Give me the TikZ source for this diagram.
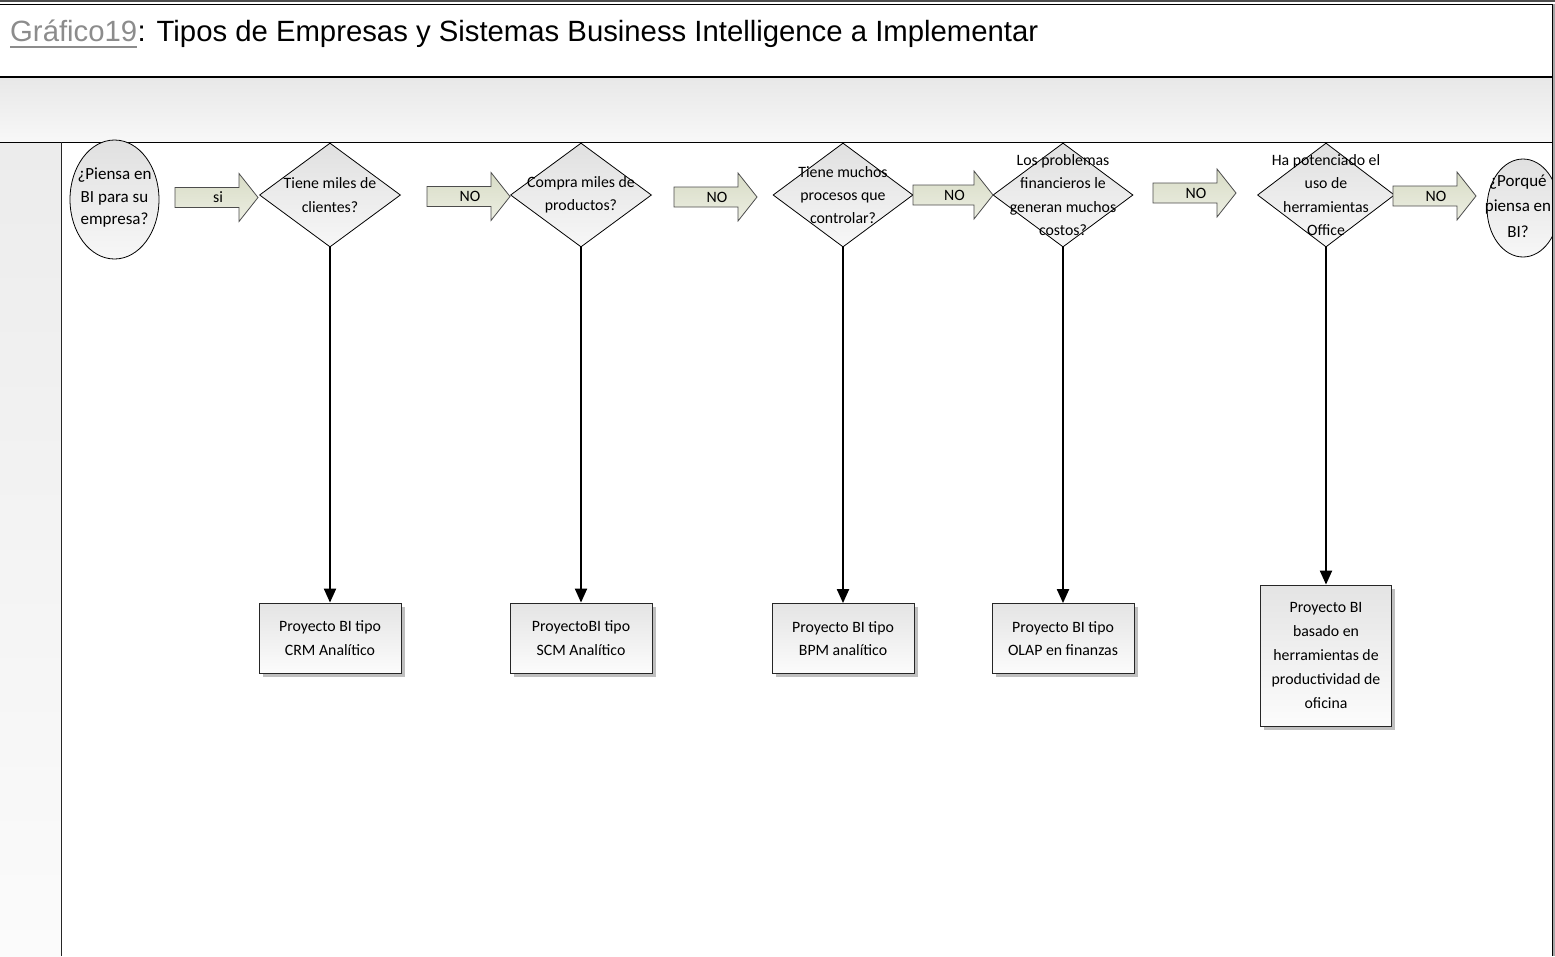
\documentclass[tikz,border=0pt]{standalone}
\usepackage{fontspec}
\setmainfont{Carlito}
\newfontfamily\titlefont{Liberation Sans}
\usetikzlibrary{shapes.geometric,arrows.meta,shadows}

\definecolor{titlegray}{RGB}{140,140,140}
\definecolor{bandtop}{RGB}{232,232,232}
\definecolor{bandbottom}{RGB}{248,248,248}
\definecolor{lanetop}{RGB}{236,236,236}
\definecolor{lanebottom}{RGB}{251,251,251}
\definecolor{shapetop}{RGB}{224,224,224}
\definecolor{shapebottom}{RGB}{247,247,247}
\definecolor{boxtop}{RGB}{228,228,228}
\definecolor{boxbottom}{RGB}{252,252,252}
\definecolor{arrowtop}{RGB}{216,220,198}
\definecolor{arrowbottom}{RGB}{236,238,226}

% vertical shading: first colour at the top, second at the bottom
\tikzset{
  vshade/.style 2 args={top color=#1, bottom color=#2}
}

% block arrow between two steps: name, x from, x to, y centre, label
\newcommand{\blkarrow}[5]{%
  \draw[blockarrow] (#2,#4-10) -- (#3-19,#4-10) -- (#3-19,#4-24) -- (#3,#4)
        -- (#3-19,#4+24) -- (#3-19,#4+10) -- (#2,#4+10) -- cycle;
  \node[arrowlabel] (#1) at ({(#2+#3)/2+1.5},#4) {#5};}

\begin{document}
\begin{tikzpicture}[x=1pt,y=-1pt,
  every node/.style={inner sep=0pt, align=center},
  stepfont/.style={font=\fontsize{15.8}{23.3}\selectfont},
  decision/.style={diamond, draw=black, line width=0.8pt,
    vshade={shapetop}{shapebottom}},
  terminal/.style={ellipse, draw=black, line width=0.8pt,
    vshade={shapetop}{shapebottom}},
  shapetext/.style={stepfont},
  termtext/.style={font=\fontsize{17}{22.5}\selectfont},
  projbox/.style={rectangle, draw=black!85, line width=0.8pt,
    vshade={boxtop}{boxbottom}, stepfont,
    minimum width=142pt, minimum height=70pt,
    drop shadow={shadow xshift=3.5pt, shadow yshift=-3.5pt, fill=black!25, opacity=1}},
  flowline/.style={line width=2pt, -{Triangle[width=12pt,length=14pt]}},
  blockarrow/.style={draw=black!70, line width=0.8pt,
    vshade={arrowtop}{arrowbottom}},
  arrowlabel/.style={stepfont}
]
\useasboundingbox (0,0) rectangle (1555,956);

% ---------- frame, title bar and swimlane ----------
\fill[black!70] (0,0) rectangle (1555,2);
\fill[black!35] (1553,4) rectangle (1555,956);
\shade[vshade={bandtop}{bandbottom}] (0,78) rectangle (1552,142);
\shade[vshade={lanetop}{lanebottom}] (0,142) rectangle (61.5,956);
\draw[line width=1.3pt] (0,4.5) -- (1553,4.5);
\draw[line width=2pt] (0,77) -- (1553,77);
\draw[line width=1pt] (0,142) -- (1553,142);
\draw[black!85, line width=1.5pt] (61.5,142) -- (61.5,956);

\node[anchor=base west, font=\titlefont\fontsize{29.3}{34}\selectfont, text=titlegray]
  (tref) at (10,41.5) {Gráfico19};
\node[anchor=base west, font=\titlefont\fontsize{29.3}{34}\selectfont]
  (tmain) at (tref.base east) {: Tipos de Empresas y Sistemas Business Intelligence a Implementar};
\draw[titlegray, line width=1.6pt] ([yshift=-5.5pt]tref.base west) -- ([yshift=-5.5pt]tref.base east);

% ---------- start / end ----------
\node[terminal, minimum width=89pt, minimum height=119pt] (start) at (114.5,199.5) {};
\node[termtext] (start-t) at (114.5,198) {¿Piensa en\\BI para su\\empresa?};

\begin{scope}
  \clip (0,0) rectangle (1552,956);
  \node[terminal, minimum width=72pt, minimum height=98pt] (end) at (1523,208) {};
\end{scope}
\node[font=\fontsize{17}{25.5}\selectfont] (end-t) at (1518,206) {¿Porqué\\piensa en\\BI?};

% ---------- decisions ----------
\node[decision, minimum width=141pt, minimum height=104pt] (d1) at (330,195) {};
\node[shapetext] (d1-t) at (d1) {Tiene miles de\\clientes?};
\node[decision, minimum width=141pt, minimum height=104pt] (d2) at (581,195) {};
\node[shapetext] (d2-t) at (d2) {Compra miles de\\productos?};
\node[decision, minimum width=140pt, minimum height=104pt] (d3) at (843,195) {};
\node[shapetext] (d3-t) at (d3) {Tiene muchos\\procesos que\\controlar?};
\node[decision, minimum width=140pt, minimum height=104pt] (d4) at (1063,195) {};
\node[shapetext] (d4-t) at (d4) {Los problemas\\financieros le\\generan muchos\\costos?};
\node[decision, minimum width=137pt, minimum height=104pt] (d5) at (1326,195) {};
\node[shapetext] (d5-t) at (d5) {Ha potenciado el\\uso de\\herramientas\\Office};

% ---------- block arrows ----------
\blkarrow{a1}{175}{258}{197.5}{si}
\blkarrow{a2}{427}{510}{196.5}{NO}
\blkarrow{a3}{674}{757}{197}{NO}
\blkarrow{a4}{913}{993}{195}{NO}
\blkarrow{a5}{1153}{1236}{193}{NO}
\blkarrow{a6}{1393}{1476}{196}{NO}

% ---------- projects ----------
\node[projbox] (p1) at (330,638) {Proyecto BI tipo\\CRM Analítico};
\node[projbox] (p2) at (581,638) {ProyectoBI tipo\\SCM Analítico};
\node[projbox] (p3) at (843,638.5) {Proyecto BI tipo\\BPM analítico};
\node[projbox] (p4) at (1063,638.5) {Proyecto BI tipo\\OLAP en finanzas};
\node[projbox, minimum width=131pt, minimum height=141pt,
      font=\fontsize{15.8}{24}\selectfont] (p5) at (1326,655.5)
  {Proyecto BI\\basado en\\herramientas de\\productividad de\\oficina};

% ---------- connectors ----------
\draw[flowline] (d1.south) -- (p1.north);
\draw[flowline] (d2.south) -- (p2.north);
\draw[flowline] (d3.south) -- (p3.north);
\draw[flowline] (d4.south) -- (p4.north);
\draw[flowline] (d5.south) -- (p5.north);

% right border over everything
\draw[line width=1.5pt] (1552.5,4) -- (1552.5,956);
\end{tikzpicture}
\end{document}
